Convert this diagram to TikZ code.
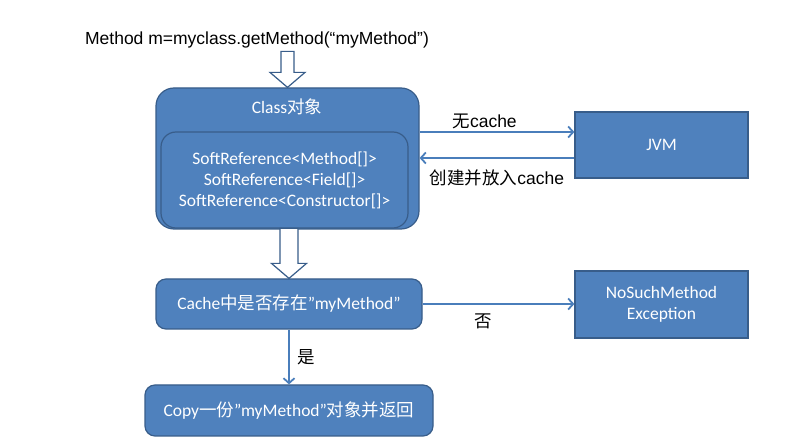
\documentclass[tikz,border=0pt]{standalone}
\usepackage{fontspec}
\setmainfont{Liberation Sans}
\newfontfamily\boxfont{Carlito}
\newfontfamily\cjk{Noto Sans CJK SC}
\usetikzlibrary{arrows.meta,calc}
\definecolor{boxblue}{HTML}{4F81BD}
\definecolor{boxline}{HTML}{385D8A}
\definecolor{flowblue}{HTML}{4A7EBB}
\tikzset{
    box/.style={draw=boxline, line width=1.2pt, fill=boxblue, text=white,
        font=\boxfont\fontsize{17.5}{21}\selectfont, align=center, inner sep=0pt},
    roundbox/.style={box, rounded corners=10pt},
    flow/.style={draw=flowblue, line width=1.8pt, -{Straight Barb[length=5pt,width=11pt]}},
    hollow/.style={draw=boxline, line width=1.2pt, fill=white, line join=miter},
    lbl/.style={font=\fontsize{17.5}{21}\selectfont, text=black},
}
\begin{document}
\begin{tikzpicture}[x=1pt, y=-1pt]
    \useasboundingbox[fill=white] (0,0) rectangle (812,446);
    % top call
    \node [lbl] (title) at (257,39.5) {Method m=myclass.getMethod(“myMethod”)};
    % class object with its caches
    \node [box, rounded corners=18pt, minimum width=263pt, minimum height=141pt] (classbox) at (287.5,158.5) {};
    \node [box, draw=none, fill=none] (classname) at (287,107) {Class{\cjk 对象}};
    \node [box, rounded corners=15pt, minimum width=247pt, minimum height=96pt] (refs) at (284.5,180)
        {SoftReference<Method[]>\\SoftReference<Field[]>\\SoftReference<Constructor[]>};
    \node [box, minimum width=173pt, minimum height=66pt] (jvm) at (661.5,145) {JVM};
    \node [roundbox, minimum width=266pt, minimum height=50pt] (check) at (289,304) {Cache{\cjk 中是否存在}”myMethod”};
    \node [box, minimum width=173pt, minimum height=67pt] (nosuch) at (661.5,304.5) {NoSuchMethod\\Exception};
    \node [roundbox, minimum width=288pt, minimum height=51pt] (copy) at (289,410.5) {Copy{\cjk 一份}”myMethod”{\cjk 对象并返回}};
    % hollow arrows
    \draw [hollow] ($(classbox.north)+(-6.5,-36)$) -- ++(0,21) -- ++(-11,0) -- (classbox.north)
        -- ++(17.5,-15) -- ++(-11,0) -- ++(0,-21) -- cycle;
    \draw [hollow] ($(check.north)+(-9,-50)$) -- ++(0,35) -- ++(-8.5,0) -- (check.north)
        -- ++(17.5,-15) -- ++(-8.5,0) -- ++(0,-35) -- cycle;
    % connectors
    \draw [flow] ([yshift=13pt]jvm.west -| classbox.east) -- node [lbl, above, pos=0.42, yshift=-1pt] {{\cjk 无}cache} ([yshift=13pt]jvm.west);
    \draw [flow] ([yshift=-13pt]jvm.west) -- node [lbl, below, yshift=-8pt] {{\cjk 创建并放入}cache} ([yshift=-13pt]jvm.west -| classbox.east);
    \draw [flow] (check.east) -- node [lbl, below, pos=0.4, yshift=-6pt] {\cjk 否} (check.east -| nosuch.west);
    \draw [flow] (check.south) -- node [lbl, right, xshift=4pt] {\cjk 是} (copy.north);
\end{tikzpicture}
\end{document}
